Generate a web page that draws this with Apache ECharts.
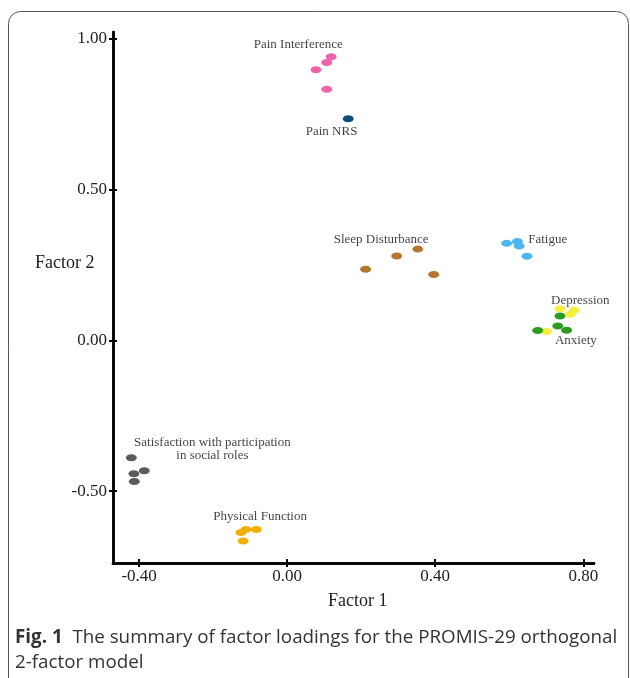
<!DOCTYPE html>
<html><head><meta charset="utf-8">
<script src="https://cdn.jsdelivr.net/npm/echarts@6/dist/echarts.min.js"></script>
<style>html,body{margin:0;padding:0;background:#fff}#c{width:630px;height:678px}</style>
</head><body><div id="c"></div>
<script>
// Tick labels
const xTicks = [-0.4, 0, 0.4, 0.8];
const yTicks = [-0.5, 0, 0.5, 1.0];
// Factor loadings [Factor 1, Factor 2]
const painInterference = [[0.119, 0.941], [0.107, 0.922], [0.078, 0.898], [0.107, 0.833]];
const painNRS = [[0.165, 0.735]];
const sleepDisturbance = [[0.353, 0.303], [0.296, 0.280], [0.212, 0.236], [0.396, 0.219]];
const fatigue = [[0.593, 0.322], [0.622, 0.328], [0.627, 0.313], [0.648, 0.279]];
const depression = [[0.737, 0.105], [0.776, 0.100], [0.765, 0.087], [0.701, 0.030]];
const anxiety = [[0.737, 0.081], [0.731, 0.048], [0.677, 0.033], [0.755, 0.034]];
const socialRoles = [[-0.421, -0.389], [-0.414, -0.442], [-0.386, -0.432], [-0.413, -0.468]];
const physicalFunction = [[-0.125, -0.637], [-0.111, -0.627], [-0.083, -0.627], [-0.119, -0.665]];
// Group labels and their positions
const labelTexts = ['Pain Interference', 'Pain NRS', 'Sleep Disturbance', 'Fatigue', 'Depression', 'Anxiety', 'Satisfaction with participation\nin social roles', 'Physical Function'];
const labelPos = [[0.030, 0.980], [0.120, 0.692], [0.254, 0.336], [0.704, 0.333], [0.792, 0.131], [0.780, 0.001], [-0.202, -0.361], [-0.073, -0.583]];

const groups = [
  {name: 'Pain Interference', data: painInterference, color: '#ef62aa'},
  {name: 'Pain NRS', data: painNRS, color: '#0b4c7a'},
  {name: 'Sleep Disturbance', data: sleepDisturbance, color: '#b3782e'},
  {name: 'Fatigue', data: fatigue, color: '#4cb6f3'},
  {name: 'Depression', data: depression, color: '#f6ee3c'},
  {name: 'Anxiety', data: anxiety, color: '#2c9c1e'},
  {name: 'Social Roles', data: socialRoles, color: '#5b5b5b'},
  {name: 'Physical Function', data: physicalFunction, color: '#f2b100'}
];

const serif = 'Liberation Serif';
const xMin = -0.4705, xMax = 0.829, yMin = -0.738, yMax = 1.023;
const axisLine = {show: true, onZero: false, lineStyle: {color: '#000', width: 2.5}};

function xAxisDef(inside) {
  return {
    type: 'value', position: 'bottom', min: xMin, max: xMax,
    splitLine: {show: false}, axisLine: axisLine,
    axisTick: {show: true, inside: inside, length: 4, customValues: xTicks, lineStyle: {color: '#000', width: 2}},
    axisLabel: inside ? {show: false} : {show: true, customValues: xTicks, margin: 5, fontFamily: serif, fontSize: 17, color: '#222', formatter: v => v.toFixed(2)}
  };
}
function yAxisDef(inside) {
  return {
    type: 'value', position: 'left', min: yMin, max: yMax,
    splitLine: {show: false}, axisLine: axisLine,
    axisTick: {show: true, inside: inside, length: 4, customValues: yTicks, lineStyle: {color: '#000', width: 2}},
    axisLabel: inside ? {show: false} : {show: true, customValues: yTicks, margin: 6, fontFamily: serif, fontSize: 17, color: '#222', formatter: v => v.toFixed(2)}
  };
}

const series = groups.map(g => ({
  type: 'scatter', name: g.name, data: g.data,
  symbol: 'circle', symbolSize: [11, 7],
  itemStyle: {color: g.color, opacity: 1},
  z: 3
}));
series.push({
  type: 'scatter', name: 'labels', symbolSize: 1,
  itemStyle: {color: 'rgba(0,0,0,0)'},
  data: labelPos.map((p, i) => ({value: p, name: labelTexts[i]})),
  label: {show: true, position: 'inside', formatter: p => p.name, fontFamily: serif, fontSize: 13, lineHeight: 13, color: '#111', align: 'center', verticalAlign: 'middle'},
  z: 4, silent: true
});

const chart = echarts.init(document.getElementById('c'), null, {renderer: 'canvas'});
chart.setOption({
  animation: false,
  backgroundColor: '#fff',
  grid: {left: 113, right: 36, top: 32, bottom: 115, containLabel: false},
  xAxis: [xAxisDef(false), xAxisDef(true)],
  yAxis: [yAxisDef(false), yAxisDef(true)],
  series: series,
  graphic: [
    {type: 'rect', shape: {x: 8.5, y: 11.5, width: 620, height: 720, r: 12}, style: {fill: 'none', stroke: '#555', lineWidth: 1}, silent: true},
    {type: 'text', left: 35, top: 254, style: {text: 'Factor 2', font: '18px "Liberation Serif"', fill: '#222'}},
    {type: 'text', left: 328, top: 592, style: {text: 'Factor 1', font: '18px "Liberation Serif"', fill: '#222'}},
    {type: 'text', left: 15, top: 625, style: {
      text: '{b|Fig. 1}  The summary of factor loadings for the PROMIS-29 orthogonal\n2-factor model',
      rich: {b: {fontWeight: 'bold', fontFamily: 'Open Sans', fontSize: 18.8, fill: '#333'}},
      font: '18.8px "Open Sans"', fill: '#333', lineHeight: 25
    }}
  ]
});
</script></body></html>
